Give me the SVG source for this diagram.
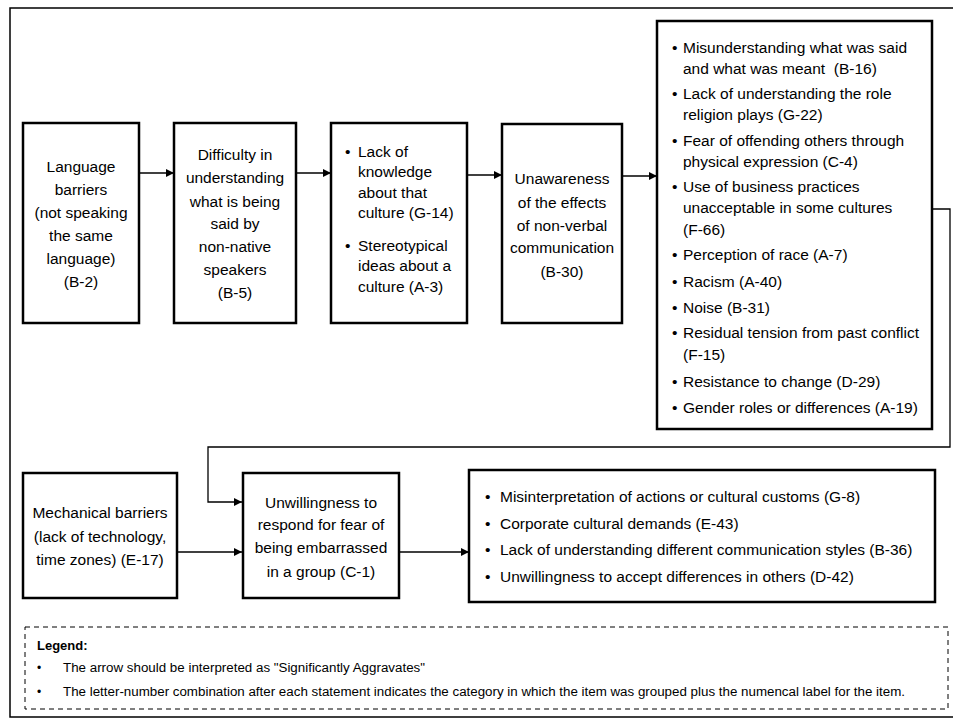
<svg xmlns="http://www.w3.org/2000/svg" width="953" height="719" viewBox="0 0 953 719">
  <style>
    .frame { fill: none; stroke: #000; stroke-width: 1.5; }
    .box { fill: #fff; stroke: #000; stroke-width: 2.5; }
    .link { fill: none; stroke: #000; stroke-width: 1.3; }
    .legend-box { fill: none; stroke: #000; stroke-width: 1; stroke-dasharray: 5 4; }
    text { font-family: "Liberation Sans", Arial, sans-serif; font-size: 15.5px; fill: #000; }
    .c { text-anchor: middle; }
    .legend { font-size: 12px; }
    .legend-title { font-size: 13px; font-weight: bold; }
  </style>
  <defs>
    <marker id="arrow" viewBox="0 0 10 10" refX="10" refY="5" markerWidth="8" markerHeight="8" markerUnits="userSpaceOnUse" orient="auto">
      <path d="M0,0 L10,5 L0,10 Z" fill="#000"/>
    </marker>
  </defs>

  <rect width="953" height="719" fill="#fff"/>

  <!-- outer frame (open on the right) -->
  <path class="frame" d="M953,8 H10 V717 H953"/>

  <!-- connectors -->
  <g id="connectors">
    <line class="link" x1="139" y1="173" x2="174" y2="173" marker-end="url(#arrow)"/>
    <line class="link" x1="296" y1="173" x2="331" y2="173" marker-end="url(#arrow)"/>
    <line class="link" x1="467" y1="175" x2="502" y2="175" marker-end="url(#arrow)"/>
    <line class="link" x1="622" y1="176" x2="657" y2="176" marker-end="url(#arrow)"/>
    <path class="link" d="M932,209 H950 V447 H208 V502 H242" marker-end="url(#arrow)"/>
    <line class="link" x1="177" y1="552" x2="242" y2="552" marker-end="url(#arrow)"/>
    <line class="link" x1="399" y1="552" x2="469" y2="552" marker-end="url(#arrow)"/>
  </g>

  <g id="language-barriers">
    <rect class="box" x="23" y="123" width="116" height="200"/>
    <text class="c" x="81" y="172">Language</text>
    <text class="c" x="81" y="195">barriers</text>
    <text class="c" x="81" y="218">(not speaking</text>
    <text class="c" x="81" y="241">the same</text>
    <text class="c" x="81" y="264">language)</text>
    <text class="c" x="81" y="287">(B-2)</text>
  </g>

  <g id="difficulty-understanding">
    <rect class="box" x="174" y="123" width="122" height="200"/>
    <text class="c" x="235" y="160">Difficulty in</text>
    <text class="c" x="235" y="183">understanding</text>
    <text class="c" x="235" y="207">what is being</text>
    <text class="c" x="235" y="229">said by</text>
    <text class="c" x="235" y="252">non-native</text>
    <text class="c" x="235" y="275">speakers</text>
    <text class="c" x="235" y="298">(B-5)</text>
  </g>

  <g id="lack-of-knowledge">
    <rect class="box" x="331" y="123" width="136" height="200"/>
    <text x="345" y="157">•</text>
    <text x="358" y="157">Lack of</text>
    <text x="358" y="177">knowledge</text>
    <text x="358" y="198">about that</text>
    <text x="358" y="218">culture (G-14)</text>
    <text x="345" y="251">•</text>
    <text x="358" y="251">Stereotypical</text>
    <text x="358" y="271">ideas about a</text>
    <text x="358" y="292">culture (A-3)</text>
  </g>

  <g id="non-verbal">
    <rect class="box" x="502" y="124" width="120" height="199"/>
    <text class="c" x="562" y="184">Unawareness</text>
    <text class="c" x="562" y="208">of the effects</text>
    <text class="c" x="562" y="231">of non-verbal</text>
    <text class="c" x="562" y="253">communication</text>
    <text class="c" x="562" y="277">(B-30)</text>
  </g>

  <g id="cultural-factors">
    <rect class="box" x="657" y="21" width="275" height="408"/>
    <text x="672" y="53">•</text>
    <text x="683" y="53">Misunderstanding what was said</text>
    <text x="683" y="74">and what was meant&#160; (B-16)</text>
    <text x="672" y="99">•</text>
    <text x="683" y="99">Lack of understanding the role</text>
    <text x="683" y="120">religion plays (G-22)</text>
    <text x="672" y="146">•</text>
    <text x="683" y="146">Fear of offending others through</text>
    <text x="683" y="167">physical expression (C-4)</text>
    <text x="672" y="192">•</text>
    <text x="683" y="192">Use of business practices</text>
    <text x="683" y="213">unacceptable in some cultures</text>
    <text x="683" y="235">(F-66)</text>
    <text x="672" y="260">•</text>
    <text x="683" y="260">Perception of race (A-7)</text>
    <text x="672" y="287">•</text>
    <text x="683" y="287">Racism (A-40)</text>
    <text x="672" y="313">•</text>
    <text x="683" y="313">Noise (B-31)</text>
    <text x="672" y="338">•</text>
    <text x="683" y="338">Residual tension from past conflict</text>
    <text x="683" y="360">(F-15)</text>
    <text x="672" y="387">•</text>
    <text x="683" y="387">Resistance to change (D-29)</text>
    <text x="672" y="413">•</text>
    <text x="683" y="413">Gender roles or differences (A-19)</text>
  </g>

  <g id="mechanical-barriers">
    <rect class="box" x="23" y="473" width="154" height="125"/>
    <text class="c" x="100" y="518">Mechanical barriers</text>
    <text class="c" x="100" y="542">(lack of technology,</text>
    <text class="c" x="100" y="565">time zones) (E-17)</text>
  </g>

  <g id="unwillingness-to-respond">
    <rect class="box" x="243" y="473" width="156" height="125"/>
    <text class="c" x="321" y="508">Unwillingness to</text>
    <text class="c" x="321" y="530">respond for fear of</text>
    <text class="c" x="321" y="553">being embarrassed</text>
    <text class="c" x="321" y="577">in a group (C-1)</text>
  </g>

  <g id="outcomes">
    <rect class="box" x="469" y="470" width="466" height="132"/>
    <text x="485" y="502">•</text>
    <text x="500" y="502">Misinterpretation of actions or cultural customs (G-8)</text>
    <text x="485" y="529">•</text>
    <text x="500" y="529">Corporate cultural demands (E-43)</text>
    <text x="485" y="555">•</text>
    <text x="500" y="555">Lack of understanding different communication styles (B-36)</text>
    <text x="485" y="582">•</text>
    <text x="500" y="582">Unwillingness to accept differences in others (D-42)</text>
  </g>

  <g id="legend">
    <rect class="legend-box" x="25" y="627" width="923" height="82"/>
    <text class="legend-title" x="37" y="650">Legend:</text>
    <text class="legend" x="37" y="672">•</text>
    <text class="legend" x="63" y="672" textLength="362" lengthAdjust="spacingAndGlyphs">The arrow should be interpreted as "Significantly Aggravates"</text>
    <text class="legend" x="37" y="696">•</text>
    <text class="legend" x="63" y="696" textLength="842" lengthAdjust="spacingAndGlyphs">The letter-number combination after each statement indicates the category in which the item was grouped plus the numencal label for the item.</text>
  </g>
</svg>
